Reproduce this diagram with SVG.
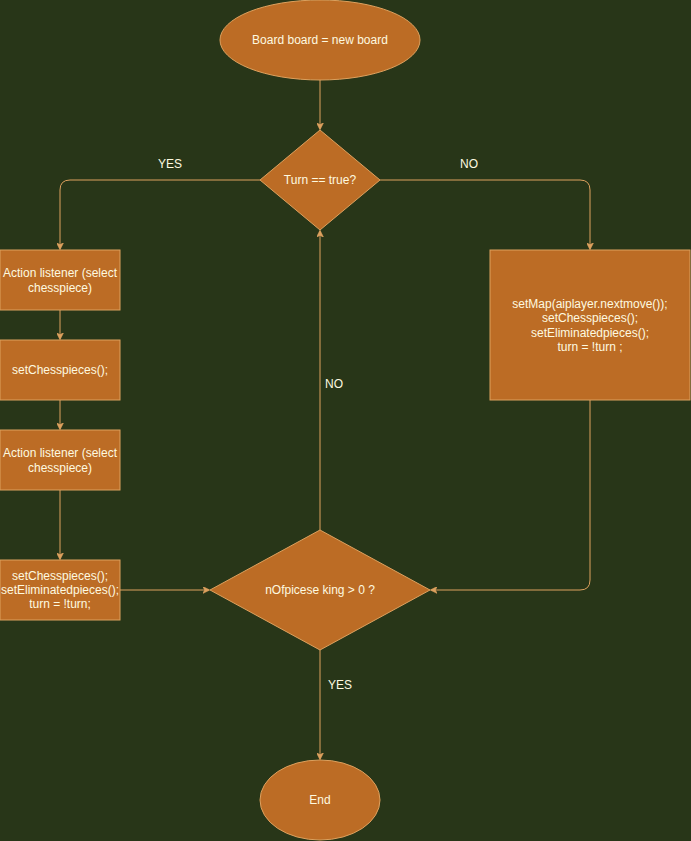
<svg xmlns="http://www.w3.org/2000/svg" width="691" height="841" viewBox="0 0 691 841">
  <defs>
    <style>
      .shape { fill: #BC6C25; stroke: #DDA15E; stroke-width: 1; }
      .edge { fill: none; stroke: #DDA15E; stroke-width: 1; }
      .txt { font-family: "Liberation Sans", Arial, sans-serif; font-size: 12px; fill: #FEFAE0; text-anchor: middle; dominant-baseline: central; }
    </style>
    <marker id="arrow" viewBox="0 0 10 10" refX="9" refY="5" markerWidth="7" markerHeight="7" markerUnits="userSpaceOnUse" orient="auto">
      <path d="M0,0 L10,5 L0,10 L3,5 Z" fill="#DDA15E" stroke="#DDA15E" stroke-width="1"/>
    </marker>
  </defs>

  <rect x="0" y="0" width="691" height="841" fill="#283618"/>

  <!-- connectors -->
  <g id="connectors">
    <path class="edge" d="M320,80 L320,129" marker-end="url(#arrow)"/>
    <path class="edge" d="M260,180 L70,180 Q60,180 60,190 L60,249" marker-end="url(#arrow)"/>
    <path class="edge" d="M380,180 L580,180 Q590,180 590,190 L590,249" marker-end="url(#arrow)"/>
    <path class="edge" d="M60,310 L60,339" marker-end="url(#arrow)"/>
    <path class="edge" d="M60,400 L60,429" marker-end="url(#arrow)"/>
    <path class="edge" d="M60,490 L60,559" marker-end="url(#arrow)"/>
    <path class="edge" d="M120,590 L209,590" marker-end="url(#arrow)"/>
    <path class="edge" d="M590,400 L590,580 Q590,590 580,590 L431,590" marker-end="url(#arrow)"/>
    <path class="edge" d="M320,530 L320,231" marker-end="url(#arrow)"/>
    <path class="edge" d="M320,650 L320,759" marker-end="url(#arrow)"/>
    <text class="txt" x="170" y="164">YES</text>
    <text class="txt" x="469" y="164">NO</text>
    <text class="txt" x="334" y="384">NO</text>
    <text class="txt" x="340" y="685">YES</text>
  </g>

  <g id="start">
    <ellipse class="shape" cx="320" cy="40" rx="100" ry="40"/>
    <text class="txt" x="320" y="40">Board board = new board</text>
  </g>

  <g id="turn-check">
    <polygon class="shape" points="320,130 380,180 320,230 260,180"/>
    <text class="txt" x="320" y="180">Turn == true?</text>
  </g>

  <g id="select-piece-1">
    <rect class="shape" x="0" y="250" width="120" height="60"/>
    <text class="txt" x="60" y="273">Action listener (select</text>
    <text class="txt" x="60" y="288">chesspiece)</text>
  </g>

  <g id="set-pieces">
    <rect class="shape" x="0" y="340" width="120" height="60"/>
    <text class="txt" x="60" y="370">setChesspieces();</text>
  </g>

  <g id="select-piece-2">
    <rect class="shape" x="0" y="430" width="120" height="60"/>
    <text class="txt" x="60" y="453">Action listener (select</text>
    <text class="txt" x="60" y="468">chesspiece)</text>
  </g>

  <g id="player-update">
    <rect class="shape" x="0" y="560" width="120" height="60"/>
    <text class="txt" x="60" y="576">setChesspieces();</text>
    <text class="txt" x="60" y="590">setEliminatedpieces();</text>
    <text class="txt" x="60" y="604">turn = !turn;</text>
  </g>

  <g id="ai-move">
    <rect class="shape" x="490" y="250" width="200" height="150"/>
    <text class="txt" x="590" y="304">setMap(aiplayer.nextmove());</text>
    <text class="txt" x="590" y="318">setChesspieces();</text>
    <text class="txt" x="590" y="333">setEliminatedpieces();</text>
    <text class="txt" x="590" y="347">turn = !turn ;</text>
  </g>

  <g id="king-check">
    <polygon class="shape" points="320,530 430,590 320,650 210,590"/>
    <text class="txt" x="320" y="590">nOfpicese king &gt; 0 ?</text>
  </g>

  <g id="end">
    <ellipse class="shape" cx="320" cy="800" rx="60" ry="40"/>
    <text class="txt" x="320" y="800">End</text>
  </g>
</svg>
